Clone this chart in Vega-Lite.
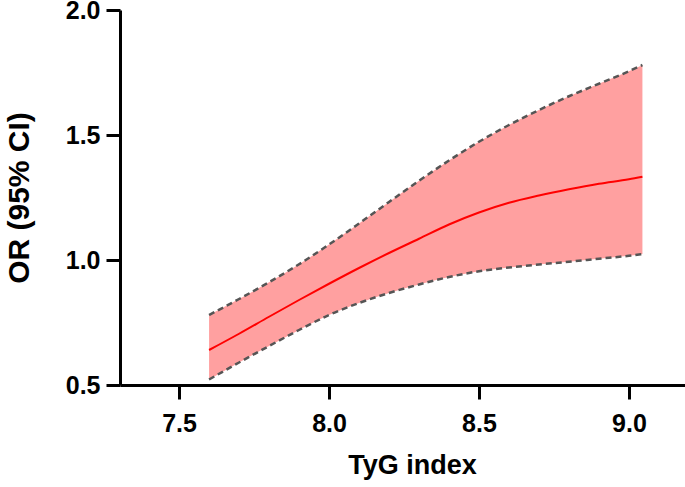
{
  "$schema": "https://vega.github.io/schema/vega-lite/v6.json",
  "width": 565,
  "height": 375,
  "autosize": "none",
  "padding": {"left": 120, "top": 10, "right": 0, "bottom": 102},
  "background": "white",
  "config": {
    "view": {"stroke": null},
    "font": "Liberation Sans",
    "axis": {
      "grid": false,
      "domainColor": "black",
      "domainWidth": 3,
      "tickColor": "black",
      "tickWidth": 3,
      "tickSize": 14,
      "labelFont": "Liberation Sans",
      "labelFontWeight": "bold",
      "labelFontSize": 25,
      "labelColor": "black",
      "titleFont": "Liberation Sans",
      "titleFontWeight": "bold",
      "titleColor": "black"
    }
  },
  "data": {
    "values": [
      {"x": 7.6, "lower": 0.522, "center": 0.64, "upper": 0.78},
      {"x": 7.7, "lower": 0.59, "center": 0.705, "upper": 0.844},
      {"x": 7.8, "lower": 0.656, "center": 0.773, "upper": 0.911},
      {"x": 7.9, "lower": 0.72, "center": 0.84, "upper": 0.983},
      {"x": 8.0, "lower": 0.78, "center": 0.905, "upper": 1.062},
      {"x": 8.1, "lower": 0.828, "center": 0.968, "upper": 1.146},
      {"x": 8.2, "lower": 0.868, "center": 1.028, "upper": 1.232},
      {"x": 8.3, "lower": 0.902, "center": 1.085, "upper": 1.317},
      {"x": 8.4, "lower": 0.932, "center": 1.142, "upper": 1.398},
      {"x": 8.5, "lower": 0.955, "center": 1.19, "upper": 1.473},
      {"x": 8.6, "lower": 0.97, "center": 1.229, "upper": 1.54},
      {"x": 8.7, "lower": 0.982, "center": 1.258, "upper": 1.6},
      {"x": 8.8, "lower": 0.993, "center": 1.283, "upper": 1.655},
      {"x": 8.9, "lower": 1.005, "center": 1.305, "upper": 1.705},
      {"x": 9.0, "lower": 1.017, "center": 1.323, "upper": 1.755},
      {"x": 9.045, "lower": 1.024, "center": 1.333, "upper": 1.78}
    ]
  },
  "encoding": {
    "x": {
      "field": "x",
      "type": "quantitative",
      "scale": {"domain": [7.303, 9.187], "nice": false, "zero": false},
      "axis": {"values": [7.5, 8.0, 8.5, 9.0], "format": ".1f", "title": "TyG index", "titleFontSize": 27, "labelPadding": 12, "titlePadding": 16, "titleX": 292}
    }
  },
  "layer": [
    {
      "mark": {"type": "area", "color": "#FFA0A0", "opacity": 1, "interpolate": "monotone"},
      "encoding": {
        "y": {
          "field": "lower",
          "type": "quantitative",
          "scale": {"domain": [0.5, 2.0], "nice": false, "zero": false},
          "axis": {"values": [0.5, 1.0, 1.5, 2.0], "format": ".1f", "title": "OR (95% CI)", "titleFontSize": 30, "labelPadding": 6, "titleX": -101, "titleY": 187.5, "titleAngle": 270, "titleAlign": "center", "titleBaseline": "middle"}
        },
        "y2": {"field": "upper"}
      }
    },
    {
      "mark": {"type": "line", "color": "#555555", "strokeWidth": 2.5, "strokeDash": [6, 4], "interpolate": "monotone"},
      "encoding": {"y": {"field": "upper", "type": "quantitative"}}
    },
    {
      "mark": {"type": "line", "color": "#555555", "strokeWidth": 2.5, "strokeDash": [6, 4], "interpolate": "monotone"},
      "encoding": {"y": {"field": "lower", "type": "quantitative"}}
    },
    {
      "mark": {"type": "line", "color": "#FF0000", "strokeWidth": 2, "interpolate": "monotone"},
      "encoding": {"y": {"field": "center", "type": "quantitative"}}
    }
  ]
}
